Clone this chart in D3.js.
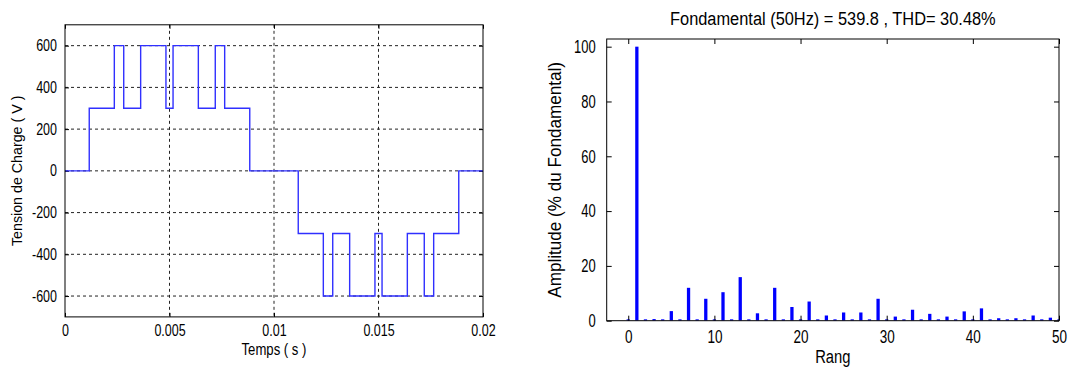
<!DOCTYPE html>
<html>
<head>
<meta charset="utf-8">
<script src="https://cdn.jsdelivr.net/npm/d3@7"></script>
<style>
  html, body { margin: 0; padding: 0; background: #fff; }
  svg { display: block; }
  text { font-family: "Liberation Sans", Arial, sans-serif; fill: #000; }
</style>
</head>
<body>
<svg id="chart" width="1073" height="374"></svg>
<script>
// ---------- Data ----------
// Left: load voltage step waveform (switching instants in ms, level held after each instant)
const switchTimesMs = [0, 1.16, 2.36, 2.81, 3.62, 4.83, 5.17, 6.38, 7.19, 7.64, 8.84,
                       11.16, 12.36, 12.81, 13.62, 14.83, 15.17, 16.38, 17.19, 17.64, 18.84];
const voltageLevels = [0, 300, 600, 300, 600, 300, 600, 300, 600, 300, 0,
                       -300, -600, -300, -600, -300, -600, -300, -600, -300, 0];
const periodEndMs = 20;
const leftXTicks = [0, 0.005, 0.01, 0.015, 0.02];
const leftXTickLabels = ["0", "0.005", "0.01", "0.015", "0.02"];
const leftYTicks = [-600, -400, -200, 0, 200, 400, 600];

// Right: harmonic spectrum (% of fundamental), orders 0..50
const harmonicOrders = d3.range(0, 51);
const harmonicAmplitudes = [0.5, 100, 0.5, 0.6, 0.5, 3.5, 0.5, 12, 0.5, 8, 0.5,
                            10.4, 0.5, 15.9, 0.5, 2.7, 0.5, 12, 0.5, 5, 0.5,
                            7, 0.5, 1.9, 0.5, 3, 0.5, 3, 0.5, 8, 0.5,
                            1.5, 0.5, 4, 0.5, 2.5, 0.5, 1.5, 0.5, 3.4, 0.5,
                            4.5, 0.5, 0.9, 0.5, 0.9, 0.5, 1.9, 0.5, 1.1, 0.5];
const rightXTicks = [0, 10, 20, 30, 40, 50];
const rightYTicks = [0, 20, 40, 60, 80, 100];
const rightTitle = "Fondamental (50Hz) = 539.8 , THD= 30.48%";

// ---------- Drawing ----------
const svg = d3.select("#chart");

// horizontally condense text to mimic the narrow original font
function squeeze(sel, factor) {
  sel.each(function () {
    const w = this.getComputedTextLength();
    if (w > 0) {
      d3.select(this).attr("textLength", w * factor).attr("lengthAdjust", "spacingAndGlyphs");
    }
  });
}
function styleAxis(g, fs, factor) {
  g.selectAll("path.domain").remove();
  g.selectAll("line").attr("stroke", "#000");
  g.selectAll("text").style("font-size", fs + "px").attr("fill", "#000");
  squeeze(g.selectAll("text"), factor);
}

// ===== Left plot =====
const L = { left: 65, right: 483, top: 24.8, bottom: 316.9 };
const xL = d3.scaleLinear().domain([0, 0.02]).range([L.left, L.right]);
const yL = d3.scaleLinear().domain([-700, 700]).range([L.bottom, L.top]);
const gL = svg.append("g");

// grid
gL.selectAll("line.gx").data(leftXTicks.slice(1, -1)).enter().append("line")
  .attr("x1", d => xL(d)).attr("x2", d => xL(d)).attr("y1", L.top).attr("y2", L.bottom)
  .attr("stroke", "#222").attr("stroke-width", 1).attr("stroke-dasharray", "3,3");
gL.selectAll("line.gy").data(leftYTicks).enter().append("line")
  .attr("x1", L.left).attr("x2", L.right).attr("y1", d => yL(d)).attr("y2", d => yL(d))
  .attr("stroke", "#222").attr("stroke-width", 1).attr("stroke-dasharray", "3,3");

// axes with inward ticks
const axL_bottom = d3.axisBottom(xL).tickValues(leftXTicks).tickSize(-4).tickFormat((d, i) => leftXTickLabels[i]).tickPadding(8);
const axL_top = d3.axisTop(xL).tickValues(leftXTicks).tickSize(-4).tickFormat("");
const axL_left = d3.axisLeft(yL).tickValues(leftYTicks).tickSize(-4).tickFormat(d => String(d)).tickPadding(8);
const axL_right = d3.axisRight(yL).tickValues(leftYTicks).tickSize(-4).tickFormat("");
gL.append("g").attr("transform", `translate(0,${L.bottom})`).call(axL_bottom).call(g => styleAxis(g, 16, 0.78));
gL.append("g").attr("transform", `translate(0,${L.top})`).call(axL_top).call(g => styleAxis(g, 16, 0.78));
gL.append("g").attr("transform", `translate(${L.left},0)`).call(axL_left).call(g => styleAxis(g, 16, 0.78));
gL.append("g").attr("transform", `translate(${L.right},0)`).call(axL_right).call(g => styleAxis(g, 16, 0.78));

// waveform
const wavePts = [];
switchTimesMs.forEach((t, i) => {
  const v = voltageLevels[i];
  const tEnd = i + 1 < switchTimesMs.length ? switchTimesMs[i + 1] : periodEndMs;
  wavePts.push([t / 1000, v], [tEnd / 1000, v]);
});
gL.append("path").datum(wavePts)
  .attr("d", d3.line().x(d => xL(d[0])).y(d => yL(d[1])))
  .attr("fill", "none").attr("stroke", "#3030ff").attr("stroke-width", 1.4);

// box
gL.append("rect").attr("x", L.left).attr("y", L.top).attr("width", L.right - L.left).attr("height", L.bottom - L.top)
  .attr("fill", "none").attr("stroke", "#000").attr("stroke-width", 1);

// labels
const tTemps = gL.append("text").attr("x", (L.left + L.right) / 2).attr("y", 355).attr("text-anchor", "middle")
  .style("font-size", "16px").text("Temps ( s )");
squeeze(tTemps, 0.82);
const tTension = gL.append("text").attr("transform", `translate(22,${(L.top + L.bottom) / 2}) rotate(-90)`).attr("text-anchor", "middle")
  .style("font-size", "15px").text("Tension de Charge ( V )");
squeeze(tTension, 0.95);

// ===== Right plot =====
const R = { left: 606.7, right: 1059, top: 39, bottom: 320.7 };
const xR = d3.scaleLinear().domain([-2.5, 50]).range([R.left, R.right]);
const yR = d3.scaleLinear().domain([0, 102.8]).range([R.bottom, R.top]);
const gR = svg.append("g");

svg.append("defs").append("clipPath").attr("id", "clipR").append("rect")
  .attr("x", R.left).attr("y", R.top).attr("width", R.right - R.left).attr("height", R.bottom - R.top);

const barHalf = 0.19;
gR.append("g").attr("clip-path", "url(#clipR)").selectAll("rect").data(harmonicOrders).enter().append("rect")
  .attr("x", d => xR(d - barHalf))
  .attr("width", d => xR(d + barHalf) - xR(d - barHalf))
  .attr("y", (d, i) => yR(harmonicAmplitudes[i]))
  .attr("height", (d, i) => yR(0) - yR(harmonicAmplitudes[i]))
  .attr("fill", "#0000ff");

const axR_bottom = d3.axisBottom(xR).tickValues(rightXTicks).tickSize(-5).tickFormat(d => String(d)).tickPadding(10);
const axR_top = d3.axisTop(xR).tickValues(rightXTicks).tickSize(-5).tickFormat("");
const axR_left = d3.axisLeft(yR).tickValues(rightYTicks).tickSize(-5).tickFormat(d => String(d)).tickPadding(11);
const axR_right = d3.axisRight(yR).tickValues(rightYTicks).tickSize(-5).tickFormat("");
gR.append("g").attr("transform", `translate(0,${R.bottom})`).call(axR_bottom).call(g => styleAxis(g, 18, 0.75));
gR.append("g").attr("transform", `translate(0,${R.top})`).call(axR_top).call(g => styleAxis(g, 18, 0.75));
gR.append("g").attr("transform", `translate(${R.left},0)`).call(axR_left).call(g => styleAxis(g, 18, 0.72));
gR.append("g").attr("transform", `translate(${R.right},0)`).call(axR_right).call(g => styleAxis(g, 18, 0.75));

gR.append("rect").attr("x", R.left).attr("y", R.top).attr("width", R.right - R.left).attr("height", R.bottom - R.top)
  .attr("fill", "none").attr("stroke", "#000").attr("stroke-width", 1);

const tTitle = gR.append("text").attr("x", (R.left + R.right) / 2).attr("y", 25).attr("text-anchor", "middle")
  .style("font-size", "18px").text(rightTitle);
squeeze(tTitle, 0.91);
const tRang = gR.append("text").attr("x", (R.left + R.right) / 2).attr("y", 363).attr("text-anchor", "middle")
  .style("font-size", "18px").text("Rang");
squeeze(tRang, 0.82);
const tAmp = gR.append("text").attr("transform", `translate(561,${(R.top + R.bottom) / 2}) rotate(-90)`).attr("text-anchor", "middle")
  .style("font-size", "18px").text("Amplitude (% du Fondamental)");
squeeze(tAmp, 0.95);
</script>
</body>
</html>
